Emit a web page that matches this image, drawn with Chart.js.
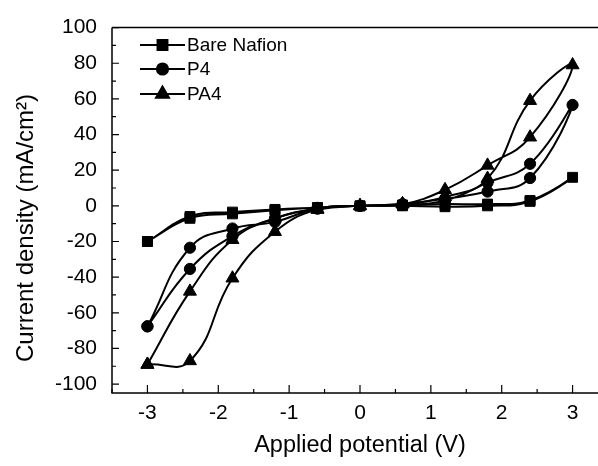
<!DOCTYPE html>
<html>
<head>
<meta charset="utf-8">
<script src="https://cdn.jsdelivr.net/npm/chart.js@4/dist/chart.umd.min.js"></script>
<style>
  html, body { margin: 0; padding: 0; background: #fff; overflow: hidden; width: 598px; height: 466px; }
  #wrap { position: absolute; left: 0; top: 0; width: 620px; height: 466px; }
</style>
</head>
<body>
<div id="wrap"><canvas id="c" width="620" height="466"></canvas></div>
<script>
// Scan order of the potential sweep (forward -3 -> 3, then back 3 -> -3)
const potentialScan = [-3, -2.4, -1.8, -1.2, -0.6, 0, 0.6, 1.2, 1.8, 2.4, 3, 2.4, 1.8, 1.2, 0.6, 0, -0.6, -1.2, -1.8, -2.4, -3];
// Current density values (mA/cm2) at each scan point
const bareNafion = [-20, -7, -4.5, -2.5, -1, 0, 0.5, 1, 1, 3, 16, 2.5, 0, -0.5, 0, 0, -1, -2, -3.5, -6, -20];
const p4 = [-67.6, -35.4, -17, -7, -1.5, 0, 1, 4, 8, 15.6, 56.6, 23.6, 13, 3, 0.5, 0, -1.5, -9, -12.7, -23.5, -67.6];
const pa4 = [-89, -48, -19, -7, -2, 0, 1, 9, 22.7, 38.5, 79, 59, 15.3, 5, 1, 0, -2, -14.5, -40.6, -87, -89];
const seriesNames = ['Bare Nafion', 'P4', 'PA4'];
const xTickValues = [-3, -2, -1, 0, 1, 2, 3];
const xMinorTicks = [-3.5, -2.5, -1.5, -0.5, 0.5, 1.5, 2.5, 3.5];
const yTickValues = [-100, -80, -60, -40, -20, 0, 20, 40, 60, 80, 100];
const yMinorTicks = [-90, -70, -50, -30, -10, 10, 30, 50, 70, 90];
const yAxisTitle = 'Current density (mA/cm²)';
const xAxisTitle = 'Applied potential (V)';

const FONT = '"Liberation Sans", Arial, sans-serif';
const toPts = arr => potentialScan.map((x, i) => ({ x: x, y: arr[i] }));

const styles = [
  { pointStyle: 'rect', radius: 7 },
  { pointStyle: 'circle', radius: 5.6 },
  { pointStyle: 'triangle', radius: 7.5 }
];
const values = [bareNafion, p4, pa4];

const datasets = values.map((v, i) => ({
  label: seriesNames[i],
  data: toPts(v),
  borderColor: '#000',
  backgroundColor: '#000',
  borderWidth: 2,
  pointStyle: styles[i].pointStyle,
  pointRadius: styles[i].radius,
  pointBackgroundColor: '#000',
  pointBorderColor: '#000',
  pointBorderWidth: 1,
  tension: 0.45,
  fill: false
}));

const framePlugin = {
  id: 'frame',
  afterDraw(chart) {
    const ctx = chart.ctx;
    const a = chart.chartArea;
    const xs = chart.scales.x, ys = chart.scales.y;
    ctx.save();
    ctx.strokeStyle = '#000';
    ctx.lineWidth = 1.5;
    ctx.beginPath();
    ctx.moveTo(a.left, a.top); ctx.lineTo(a.right, a.top);
    ctx.moveTo(a.left, a.top); ctx.lineTo(a.left, a.bottom);
    ctx.lineTo(a.right, a.bottom); ctx.lineTo(a.right, a.top);
    ctx.stroke();
    ctx.lineWidth = 1.2;
    ctx.beginPath();
    xTickValues.forEach(v => { const p = xs.getPixelForValue(v); ctx.moveTo(p, a.bottom); ctx.lineTo(p, a.bottom - 8); });
    xMinorTicks.forEach(v => { const p = xs.getPixelForValue(v); ctx.moveTo(p, a.bottom); ctx.lineTo(p, a.bottom - 4); });
    yTickValues.forEach(v => { const p = ys.getPixelForValue(v); ctx.moveTo(a.left, p); ctx.lineTo(a.left + 7, p); });
    yMinorTicks.forEach(v => { const p = ys.getPixelForValue(v); ctx.moveTo(a.left, p); ctx.lineTo(a.left + 4, p); });
    ctx.stroke();

    // y axis title
    ctx.save();
    ctx.translate(26, 228);
    ctx.rotate(-Math.PI / 2);
    ctx.font = '24px ' + FONT;
    ctx.textAlign = 'center';
    ctx.textBaseline = 'middle';
    ctx.fillStyle = '#000';
    ctx.fillText(yAxisTitle, 0, 0);
    ctx.restore();

    // legend
    const lx0 = 140, lx1 = 185, tx = 187;
    const rows = [45, 69, 94];
    ctx.font = '19px ' + FONT;
    ctx.textBaseline = 'middle';
    ctx.textAlign = 'left';
    ctx.fillStyle = '#000';
    datasets.forEach((ds, i) => {
      ctx.lineWidth = 2;
      ctx.strokeStyle = '#000';
      ctx.beginPath(); ctx.moveTo(lx0, rows[i]); ctx.lineTo(lx1, rows[i]); ctx.stroke();
      Chart.helpers.drawPoint(ctx, { pointStyle: ds.pointStyle, radius: ds.pointRadius, rotation: 0, borderWidth: 1 }, (lx0 + lx1) / 2, rows[i]);
      ctx.fill();
      ctx.fillText(ds.label, tx, rows[i] + 1);
    });
    ctx.restore();
  }
};

new Chart(document.getElementById('c'), {
  type: 'line',
  data: { datasets: datasets },
  options: {
    responsive: false,
    animation: false,
    layout: { padding: { left: 0, right: 12, top: 24, bottom: 0 } },
    plugins: { legend: { display: false }, tooltip: { enabled: false } },
    scales: {
      x: {
        type: 'linear', min: -3.5, max: 3.5,
        afterBuildTicks: s => { s.ticks = xTickValues.map(v => ({ value: v })); },
        afterFit: s => { s.height = 73; },
        grid: { display: false, drawTicks: false },
        border: { display: false },
        ticks: { color: '#000', font: { family: FONT, size: 21 }, padding: 8, maxRotation: 0, autoSkip: false },
        title: { display: true, text: xAxisTitle, color: '#000', font: { family: FONT, size: 23.5 }, padding: { top: 2, bottom: 6 } }
      },
      y: {
        type: 'linear', min: -105, max: 100,
        afterBuildTicks: s => { s.ticks = yTickValues.map(v => ({ value: v })); },
        afterFit: s => { s.width = 112; },
        grid: { display: false, drawTicks: false },
        border: { display: false },
        ticks: { color: '#000', font: { family: FONT, size: 21 }, padding: 15, autoSkip: false },
        title: { display: false }
      }
    }
  },
  plugins: [framePlugin]
});
</script>
</body>
</html>
